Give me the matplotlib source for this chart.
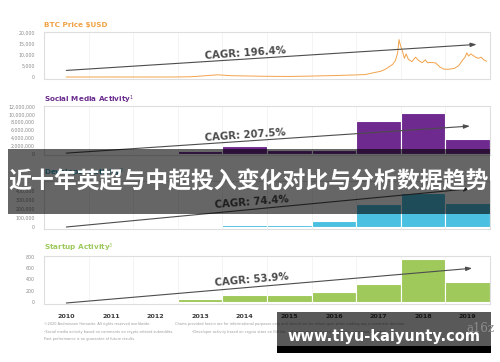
import matplotlib
matplotlib.use('Agg')
import matplotlib.pyplot as plt
from matplotlib.patches import Rectangle
from matplotlib.ticker import FuncFormatter

# years shown on the x axis
years = [2010, 2011, 2012, 2013, 2014, 2015, 2016, 2017, 2018, 2019]

# BTC price (decimal year, USD)
btc_t = [2010.5, 2011.0, 2011.45, 2012.0, 2012.9, 2013.3, 2013.9, 2014.2, 2014.9,
         2015.5, 2015.9, 2016.5, 2016.9, 2017.2, 2017.4, 2017.55, 2017.65, 2017.75,
         2017.82, 2017.88, 2017.93, 2017.96, 2017.99, 2018.04, 2018.08, 2018.12,
         2018.17, 2018.25, 2018.33, 2018.4, 2018.48, 2018.55, 2018.6, 2018.68,
         2018.78, 2018.88, 2018.96, 2019.05, 2019.2, 2019.3, 2019.38, 2019.44,
         2019.48, 2019.52, 2019.57, 2019.62, 2019.68, 2019.74, 2019.8, 2019.86,
         2019.92]
btc_v = [0, 0, 20, 5, 13, 120, 1000, 600, 350,
         250, 400, 650, 900, 1100, 2000, 2600, 3500, 4800,
         5800, 7500, 11000, 17000, 14500, 11500, 8500, 10500,
         8000, 7000, 9000, 7500, 6500, 7800, 6500, 6600,
         6400, 4500, 3600, 3500, 3900, 5200, 7500, 9000,
         11000, 9500, 10500, 9800, 9000, 8500, 9000, 7800,
         7200]

social_vals = [0, 0, 0, 750000, 1800000, 900000, 900000, 8200000, 10300000, 3600000]
dev_vals = [0, 0, 0, 8000, 18000, 22000, 67000, 255000, 375000, 265000]
startup_vals = [0, 10, 10, 60, 125, 120, 172, 320, 760, 350]

titles = ['BTC Price $USD', 'Social Media Activity$^1$',
          'Developer Activity$^2$', 'Startup Activity$^3$']
title_colors = ['#F0A346', '#6B2D8F', '#3FA9CC', '#9DC95C']
cagr_labels = ['CAGR: 196.4%', 'CAGR: 207.5%', 'CAGR: 74.4%', 'CAGR: 53.9%']

W, H = 500, 362
fig = plt.figure(figsize=(W / 100, H / 100), dpi=100)
fig.patch.set_facecolor('white')


def px_axes(top, bottom, left=44, right=490):
    return fig.add_axes([left / W, 1 - bottom / H, (right - left) / W, (bottom - top) / H])


def style(ax, yticks, ylim):
    ax.set_xlim(-0.5, 9.5)
    ax.set_ylim(*ylim)
    ax.set_yticks(yticks)
    ax.yaxis.set_major_formatter(FuncFormatter(lambda v, p: f'{v:,.0f}'))
    ax.tick_params(axis='y', length=0, pad=6.5, labelsize=3.4, labelcolor='#8a8a8a')
    ax.tick_params(axis='x', length=0)
    ax.set_xticks(range(len(years)))
    ax.set_xticklabels([])
    for x in range(len(years) - 1):
        ax.axvline(x + 0.5, color='#f0f0f0', lw=0.5, zorder=0)
    for s in ax.spines.values():
        s.set_color('#dedede')
        s.set_linewidth(0.8)


def cagr_arrow(ax, start, end):
    ax.annotate('', xy=end, xytext=start,
                arrowprops=dict(arrowstyle='-|>,head_length=0.35,head_width=0.12',
                                color='#4d4d4d', lw=0.8, shrinkA=0, shrinkB=0),
                zorder=5)


idx = list(range(len(years)))

# BTC
ax1 = px_axes(32, 79)
style(ax1, [0, 5000, 10000, 15000, 20000], (-900, 20450))
ax1.plot([t - 2010.5 for t in btc_t], btc_v, color='#F2A24A', lw=0.7)
cagr_arrow(ax1, (0, 3000), (9.2, 14800))

# Social media
ax2 = px_axes(106, 155)
style(ax2, [0, 2e6, 4e6, 6e6, 8e6, 10e6, 12e6], (-380000, 12130000))
ax2.bar(idx, social_vals, width=1.0, color='#6E2A8E', edgecolor='white', lw=0.8)
cagr_arrow(ax2, (0, 100000), (9.05, 7000000))

# Developer
ax3 = px_axes(181, 229)
style(ax3, [0, 100000, 200000, 300000, 400000], (-22000, 505000))
ax3.bar(idx, dev_vals, width=1.0, color='#4BC0E0', edgecolor='white', lw=0.8)
cagr_arrow(ax3, (0, 0), (9.05, 420000))

# Startup
ax4 = px_axes(256, 304)
style(ax4, [0, 200, 400, 600, 800], (-36, 818))
ax4.bar(idx, startup_vals, width=1.0, color='#9FC95A', edgecolor='white', lw=0.8)
cagr_arrow(ax4, (0, -18), (9.1, 600))
ax4.set_xticklabels([str(y) for y in years], fontsize=4.6, fontweight='bold', color='#3a3a3a')
ax4.tick_params(axis='x', pad=7)

# titles and CAGR labels
for title, col, y in zip(titles, title_colors, [25, 100, 173, 248]):
    fig.text(44 / W, 1 - y / H, title, color=col, fontsize=5.2, fontweight='bold', va='center')
for lab, (x, y), rot in zip(cagr_labels, [(245, 53), (245, 135), (252, 202), (252, 280)], [4, 4, 4.5, 5]):
    fig.text(x / W, 1 - y / H, lab, color='#4a4a4a', fontsize=7.3, fontweight='bold',
             ha='center', va='center', rotation=rot)

# footnotes
foot = [
    (44, 324, '©2020 Andreessen Horowitz. All rights reserved worldwide.'),
    (175, 324, 'Charts provided herein are for informational purposes only and should not be relied upon when making any investment decision.'),
    (44, 331.5, '¹Social media activity based on comments on crypto-related subreddits.'),
    (192, 331.5, '²Developer activity based on crypto stars on GitHub.   ³Startup activity based on crypto companies founded.'),
    (44, 339, 'Past performance is no guarantee of future results.'),
]
for x, y, s in foot:
    fig.text(x / W, 1 - y / H, s, fontsize=2.5, color='#9a9a9a', va='center')

# overlay banner
fig.add_artist(Rectangle((8 / W, 1 - 214 / H), 482 / W, 65 / H, transform=fig.transFigure,
                         facecolor='black', alpha=0.6, edgecolor='none', zorder=10))
fig.text(249 / W, 1 - 182 / H, '近十年英超与中超投入变化对比与分析数据趋势', color='white',
         fontsize=16.5, fontweight='bold', family=['Noto Sans CJK SC', 'DejaVu Sans'],
         ha='center', va='center', zorder=11)

# bottom watermark
fig.add_artist(Rectangle((277 / W, 1 - 346 / H), 214 / W, 34 / H, transform=fig.transFigure,
                         facecolor='black', alpha=0.65, edgecolor='none', zorder=10))
fig.add_artist(Rectangle((277 / W, 1 - 353 / H), 214 / W, 7 / H, transform=fig.transFigure,
                         facecolor='black', edgecolor='none', zorder=10))
fig.text(480 / W, 1 - 328 / H, 'a16z', color='#8c8c8c', fontsize=8.5, family='DejaVu Serif',
         ha='center', va='center', zorder=11)
fig.text(384 / W, 1 - 337 / H, 'www.tiyu-kaiyunty.com', color='white', fontsize=10.5,
         fontweight='bold', ha='center', va='center', zorder=12)

fig.savefig('out.png', dpi=100)
